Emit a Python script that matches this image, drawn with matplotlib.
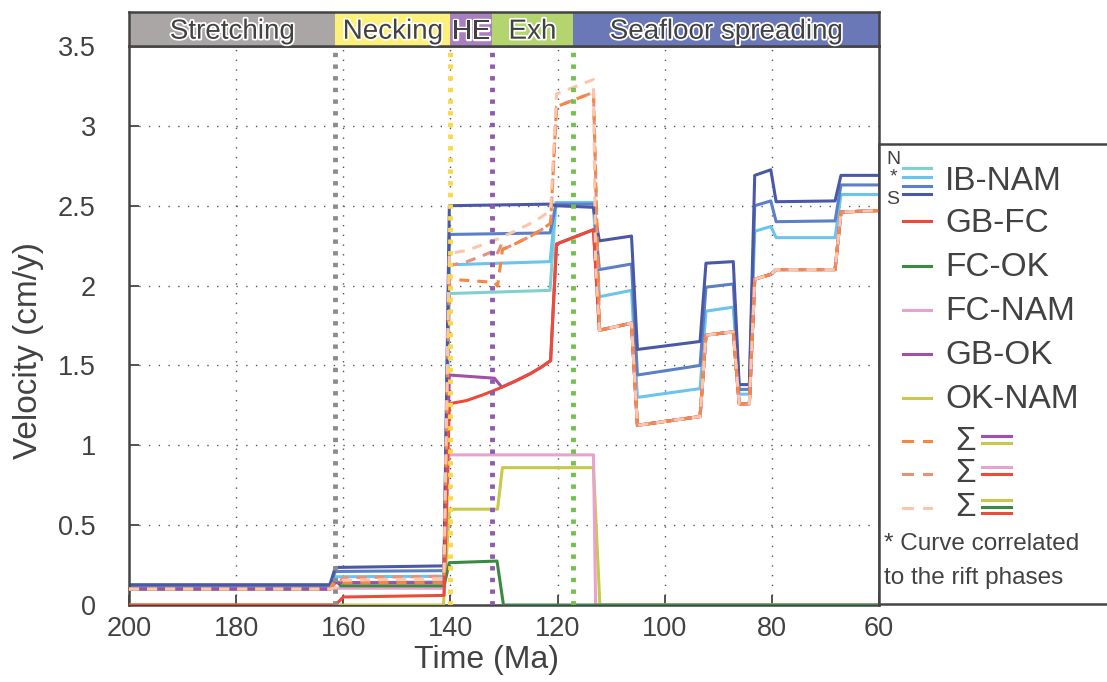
import numpy as np
import matplotlib
matplotlib.use("Agg")
import matplotlib.pyplot as plt
import matplotlib.patheffects as pe

plt.rcParams['font.family'] = ['Liberation Sans', 'DejaVu Sans']

# ---- data (Ma, cm/y) ----
ib_t = [200, 162.5, 161.5, 141.2, 140.2, 121.4, 120.3, 113.3, 112.2, 106.2, 105.1,
        93.4, 92.3, 87.2, 86.1, 84.2, 83.2, 80.2, 79.2, 68.2, 67.1, 60]
ib_s = [0.127, 0.127, 0.235, 0.245, 2.50, 2.51, 2.50, 2.49, 2.28, 2.31, 1.60,
        1.65, 2.14, 2.15, 1.38, 1.38, 2.69, 2.725, 2.525, 2.53, 2.69, 2.69]
ib_mid = [0.12, 0.12, 0.21, 0.215, 2.32, 2.33, 2.51, 2.51, 2.10, 2.135, 1.44,
          1.50, 1.99, 2.01, 1.35, 1.35, 2.50, 2.53, 2.40, 2.405, 2.63, 2.63]
ib_star = [0.115, 0.115, 0.177, 0.18, 2.13, 2.15, 2.52, 2.52, 1.93, 1.97, 1.30,
           1.355, 1.84, 1.865, 1.32, 1.32, 2.34, 2.37, 2.30, 2.30, 2.57, 2.57]
ib_n = [0.11, 0.11, 0.14, 0.145, 1.95, 1.97, 2.52, 2.52, 1.72, 1.765, 1.125,
        1.18, 1.69, 1.71, 1.26, 1.26, 2.04, 2.07, 2.10, 2.10, 2.46, 2.47]

gbfc_t = [200, 161.5, 160.0, 141.2, 140.2, 137, 134, 131, 128, 125, 123, 121.3,
          120.2, 113.3, 112.2, 106.2, 105.1, 93.4, 92.3, 87.2, 86.1, 84.2, 83.2,
          80.2, 79.2, 68.2, 67.1, 60]
gbfc_v = [0, 0, 0.05, 0.06, 1.26, 1.28, 1.315, 1.355, 1.40, 1.45, 1.49, 1.53,
          2.26, 2.35, 1.72, 1.765, 1.125, 1.18, 1.69, 1.71, 1.26, 1.26, 2.04,
          2.07, 2.10, 2.10, 2.46, 2.47]

fcok_t = [200, 162.5, 161.5, 160.5, 141.2, 140.2, 131.3, 130.1, 60]
fcok_v = [0.1, 0.1, 0.16, 0.12, 0.12, 0.265, 0.275, 0.0, 0.0]

fcnam_t = [200, 162.5, 161.5, 141.2, 140.3, 113.3, 112.9, 60]
fcnam_v = [0.1, 0.1, 0.105, 0.105, 0.94, 0.94, 0.0, 0.0]

# GB-OK joins GB-FC after ~130.4 Ma
gbok_t = [200, 162.5, 161.5, 141.2, 140.2, 131.8]
gbok_v = [0.1, 0.1, 0.14, 0.14, 1.44, 1.42]
gbok_join = 130.4

oknam_t = [200, 141.3, 140.2, 131.2, 130.3, 113.3, 112.1, 60]
oknam_v = [0, 0, 0.6, 0.6, 0.86, 0.86, 0, 0]

phase_names = ['Stretching', 'Necking', 'HE', 'Exh', 'Seafloor spreading']
phase_edges = [200, 161.5, 140, 132.3, 117.1, 60]
phase_fill = ['#aaa6a6', '#fbf07a', '#a97fc1', '#b4d470', '#6b78b8']
phase_line = ['#8c8c8c', '#fbd945', '#8e5cac', '#72c04e']

# ---- derived series ----
red_t = np.array(gbfc_t, float)
red_v = np.array(gbfc_v, float)


def at(grid, t, v):
    t = np.asarray(t, float)
    v = np.asarray(v, float)
    return np.interp(grid, t[::-1], v[::-1])


tail = red_t < gbok_join
gbok_t = np.concatenate([gbok_t, [gbok_join], red_t[tail]])
gbok_v = np.concatenate([gbok_v, [at(gbok_join, red_t, red_v)], red_v[tail]])

grid = np.unique(np.concatenate([red_t, fcok_t, fcnam_t, gbok_t, oknam_t]))[::-1]
s1 = at(grid, gbok_t, gbok_v) + at(grid, oknam_t, oknam_v)
s2 = at(grid, fcnam_t, fcnam_v) + at(grid, red_t, red_v)
s3 = at(grid, oknam_t, oknam_v) + at(grid, fcok_t, fcok_v) + at(grid, red_t, red_v)

c_n, c_star, c_mid, c_s = '#80d0d0', '#6ac4ee', '#5b80c6', '#4a58a8'
c_red, c_green, c_pink, c_purple, c_olive = '#ee4a3a', '#3a8a44', '#e8a2cc', '#a050a8', '#c8c84a'
c_s1, c_s2, c_s3 = '#f58742', '#e8907a', '#fcc6ac'
txt = '#424242'

W, H = 1107, 682
fig = plt.figure(figsize=(W / 100, H / 100), dpi=100)


def box(l, b, r, t):
    return [l / W, 1 - b / H, (r - l) / W, (b - t) / H]


ax = fig.add_axes(box(129, 605, 879, 46))
lw = 2.2
for v, c in [(ib_n, c_n), (ib_star, c_star), (ib_mid, c_mid), (ib_s, c_s)]:
    ax.plot(ib_t, v, color=c, lw=lw, zorder=2)
ax.plot(oknam_t, oknam_v, color=c_olive, lw=lw, zorder=3)
ax.plot(fcnam_t, fcnam_v, color=c_pink, lw=lw, zorder=3)
ax.plot(fcok_t, fcok_v, color=c_green, lw=lw, zorder=3)
ax.plot(gbok_t, gbok_v, color=c_purple, lw=lw, zorder=3)
ax.plot(red_t, red_v, color=c_red, lw=lw, zorder=3)
# plotted colours as seen in the figure
ax.plot(grid, s3, color=c_s2, lw=lw, dashes=(3.3, 2.6), zorder=4)
ax.plot(grid, s1, color=c_s1, lw=lw, dashes=(3.3, 2.6), zorder=4)
ax.plot(grid, s2, color=c_s3, lw=lw, dashes=(3.3, 2.6), zorder=4)

for x, c in zip(phase_edges[1:-1], phase_line):
    ax.axvline(x, color=c, lw=3.5, dashes=(0.9, 1.5), zorder=5)

ax.set_xlim(200, 60)
ax.set_ylim(0, 3.5)
ax.set_xticks(np.arange(200, 59, -20))
ax.set_yticks([0, 0.5, 1, 1.5, 2, 2.5, 3, 3.5])
ax.set_yticklabels(['0', '0.5', '1', '1.5', '2', '2.5', '3', '3.5'])
ax.grid(True, color='#555555', lw=1, linestyle=(0, (1, 6)))
ax.tick_params(direction='in', length=7, width=1.3, colors='#444444',
               labelsize=19.5, labelcolor=txt)
ax.tick_params(axis='y', pad=24)
ax.tick_params(axis='x', pad=8)
for s in ax.spines.values():
    s.set_color('#444444')
    s.set_linewidth(1.8)
ax.set_xlabel('Time (Ma)', fontsize=23, color=txt, labelpad=2)
ax.set_ylabel('Velocity (cm/y)', fontsize=24, color=txt, labelpad=10)
ax.xaxis.label.set_x(0.477)
ax.yaxis.label.set_y(0.455)

# phase bar
pax = fig.add_axes(box(129, 46, 879, 12))
for i, name in enumerate(phase_names):
    a, b = phase_edges[i], phase_edges[i + 1]
    pax.axvspan(a, b, color=phase_fill[i], lw=0)
    pax.text((a + b) / 2, 0.42, name, ha='center', va='center', fontsize=20,
             color=txt, path_effects=[pe.withStroke(linewidth=2.5, foreground='white')])
pax.set_xlim(200, 60)
pax.set_ylim(0, 1)
pax.set_xticks([])
pax.set_yticks([])
for s in pax.spines.values():
    s.set_color('#444444')
    s.set_linewidth(1.8)

# legend panel (pixel coordinates)
lax = fig.add_axes(box(879, 604, 1140, 144))
lax.set_xlim(879, 1140)
lax.set_ylim(604, 144)
lax.set_xticks([])
lax.set_yticks([])
for s in lax.spines.values():
    s.set_color('#444444')
    s.set_linewidth(1.8)

x0, x1, xt = 903, 931, 945
for y, c in zip([168, 177, 185.5, 194], [c_n, c_star, c_mid, c_s]):
    lax.plot([x0, x1], [y, y], color=c, lw=2.2)
for s, y in [('N', 159), ('*', 177), ('S', 199)]:
    lax.text(893, y, s, ha='center', va='center', fontsize=14, color=txt)
lax.text(xt, 181, 'IB-NAM', va='center', fontsize=24, color=txt)
for name, y, c in [('GB-FC', 221, c_red), ('FC-OK', 266, c_green), ('FC-NAM', 310, c_pink),
                   ('GB-OK', 354, c_purple), ('OK-NAM', 398, c_olive)]:
    lax.plot([x0, x1], [y, y], color=c, lw=2.2)
    lax.text(xt, y + 2, name, va='center', fontsize=24, color=txt)

sums = [(441, c_s1, [(436, c_purple), (442.7, c_olive)]),
        (474, c_s2, [(467.3, c_pink), (474.3, c_red)]),
        (508, c_s3, [(500, c_olive), (506.7, c_green), (513.3, c_red)])]
for y, c, parts in sums:
    lax.plot([x0, x0 + 9], [y, y], color=c, lw=2.2)
    lax.plot([x1 - 7, x1], [y, y], color=c, lw=2.2)
    lax.text(955, y, 'Σ', ha='left', va='center', fontsize=24, color=txt)
    for yy, cc in parts:
        lax.plot([982, 1011], [yy, yy], color=cc, lw=2.2)

lax.text(884, 544, '* Curve correlated', va='center', fontsize=17.5, color=txt)
lax.text(884, 578, 'to the rift phases', va='center', fontsize=17.5, color=txt)

fig.savefig('out.png', dpi=100)
